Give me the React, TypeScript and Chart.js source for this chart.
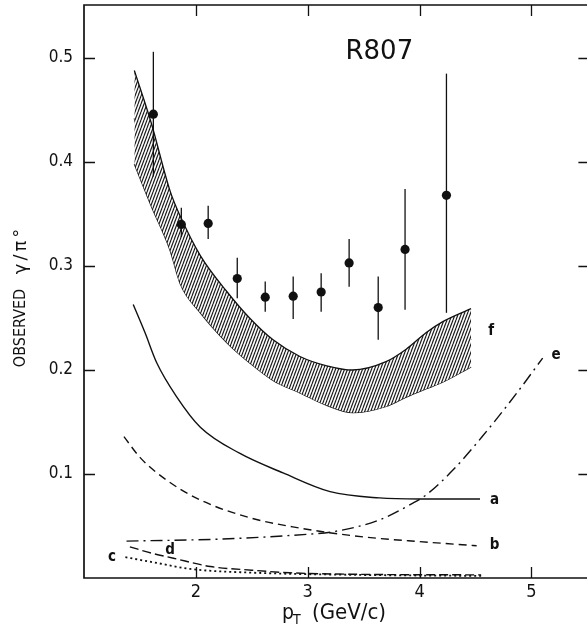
import React, { useEffect, useRef } from "react";
import { Chart, registerables } from "chart.js";

Chart.register(...registerables);

// Axis ticks
const xTicks = [2, 3, 4, 5];
const yTicks = [0.1, 0.2, 0.3, 0.4, 0.5];

// Measured gamma/pi0 ratio (R807)
const ptData = [1.62, 1.87, 2.11, 2.37, 2.62, 2.87, 3.12, 3.37, 3.63, 3.87, 4.24];
const ratioData = [0.446, 0.34, 0.341, 0.288, 0.27, 0.271, 0.275, 0.303, 0.26, 0.316, 0.368];
const errLow = [0.386, 0.328, 0.326, 0.269, 0.256, 0.249, 0.256, 0.28, 0.229, 0.258, 0.255];
const errHigh = [0.506, 0.356, 0.358, 0.308, 0.285, 0.29, 0.293, 0.326, 0.29, 0.374, 0.485];

// Band (f) edges and centre line
const bandX = [1.45, 1.6, 1.77, 1.86, 2.04, 2.28, 2.48, 2.69, 2.93, 3.17, 3.4, 3.7, 3.88, 4.06, 4.2, 4.46];
const bandUpper = [0.488, 0.438, 0.372, 0.348, 0.31, 0.275, 0.25, 0.229, 0.213, 0.204, 0.2, 0.208, 0.22, 0.236, 0.246, 0.259];
const bandLower = [0.398, 0.358, 0.315, 0.283, 0.255, 0.226, 0.207, 0.19, 0.178, 0.166, 0.159, 0.165, 0.174, 0.182, 0.188, 0.203];
const fX = [1.45, 1.62, 1.86, 2.1, 2.39, 2.69, 2.99, 3.49, 3.79, 4.06, 4.42, 4.46];
const fY = [0.442, 0.395, 0.332, 0.284, 0.237, 0.21, 0.193, 0.178, 0.1875, 0.2, 0.227, 0.23];

// Curve a (solid)
const aX = [1.44, 1.545, 1.65, 1.83, 2.04, 2.39, 2.78, 3.2, 3.64, 4.0, 4.54];
const aY = [0.263, 0.236, 0.207, 0.174, 0.145, 0.12, 0.101, 0.083, 0.077, 0.076, 0.076];
// Curve b (dashed)
const bX = [1.357, 1.5, 1.74, 2.04, 2.48, 2.93, 3.3, 3.64, 4.0, 4.51];
const bY = [0.136, 0.116, 0.094, 0.075, 0.058, 0.048, 0.042, 0.038, 0.035, 0.031];
// Curve c (dotted)
const cX = [1.37, 1.65, 1.95, 2.54, 3.44, 4.55];
const cY = [0.02, 0.0145, 0.0087, 0.005, 0.003, 0.002];
// Curve d (long dash)
const dX = [1.41, 1.6, 1.8, 2.13, 2.5, 2.84, 3.5, 4.55];
const dY = [0.03, 0.024, 0.019, 0.011, 0.0075, 0.005, 0.0035, 0.003];
// Curve e (dash-dot)
const eX = [1.38, 2.24, 2.99, 3.2, 3.64, 3.94, 4.06, 4.3, 4.56, 4.87, 5.1];
const eY = [0.0355, 0.0375, 0.042, 0.044, 0.0558, 0.072, 0.08, 0.104, 0.136, 0.178, 0.2115];

// Curve labels (data coordinates)
const labelText = ["a", "b", "c", "d", "e", "f"];
const labelX = [4.67, 4.67, 1.25, 1.77, 5.22, 4.64];
const labelY = [0.075, 0.032, 0.02, 0.027, 0.214, 0.237];
const titleText = "R807";
const titleX = 3.64;
const titleY = 0.506;

const xMin = 1.0;
const xMax = 5.5;
const yMin = 0;
const yMax = 0.551;

const pts = (xs: number[], ys: number[]) => xs.map((x, i) => ({ x, y: ys[i] }));

export default function App() {
  const ref = useRef<HTMLCanvasElement>(null);

  useEffect(() => {
    document.body.style.margin = "0";
    document.body.style.overflow = "hidden";
    document.documentElement.style.overflow = "hidden";
    const canvas = ref.current!;

    // hatch pattern
    const pc = document.createElement("canvas");
    pc.width = 3;
    pc.height = 8;
    const pctx = pc.getContext("2d")!;
    pctx.fillStyle = "#fff";
    pctx.fillRect(0, 0, 3, 8);
    pctx.strokeStyle = "rgba(0,0,0,0.9)";
    pctx.lineWidth = 1.2;
    for (let k = -1; k <= 1; k++) {
      pctx.beginPath();
      pctx.moveTo(k * 3, 8);
      pctx.lineTo(k * 3 + 3, 0);
      pctx.stroke();
    }
    const hatch = canvas.getContext("2d")!.createPattern(pc, "repeat")!;

    const ink = "#111";
    const line = (data: any, dash: number[], width = 1.4) => ({
      type: "scatter" as const,
      data,
      showLine: true,
      borderColor: ink,
      borderWidth: width,
      borderDash: dash,
      pointRadius: 0,
      fill: false,
      cubicInterpolationMode: "monotone" as const,
    });

    const decor = {
      id: "decor",
      afterDatasetsDraw(chart: any) {
        const ctx = chart.ctx;
        const xs = chart.scales.x;
        const ys = chart.scales.y;
        ctx.save();
        ctx.strokeStyle = ink;
        ctx.lineWidth = 1.3;
        // error bars
        for (let i = 0; i < ptData.length; i++) {
          const px = xs.getPixelForValue(ptData[i]);
          ctx.beginPath();
          ctx.moveTo(px, ys.getPixelForValue(errLow[i]));
          ctx.lineTo(px, ys.getPixelForValue(errHigh[i]));
          ctx.stroke();
        }
        ctx.restore();
      },
      afterDraw(chart: any) {
        const ctx = chart.ctx;
        const a = chart.chartArea;
        const xs = chart.scales.x;
        const ys = chart.scales.y;
        ctx.save();
        ctx.strokeStyle = ink;
        ctx.lineWidth = 1.7;
        // frame (right edge of the original frame lies outside the picture)
        ctx.beginPath();
        ctx.moveTo(a.right + 4, a.top);
        ctx.lineTo(a.left, a.top);
        ctx.lineTo(a.left, a.bottom);
        ctx.lineTo(a.right + 4, a.bottom);
        ctx.stroke();
        ctx.lineWidth = 1.3;
        const tl = 11;
        ctx.beginPath();
        xTicks.forEach((v) => {
          const px = Math.round(xs.getPixelForValue(v)) + 0.5;
          ctx.moveTo(px, a.bottom);
          ctx.lineTo(px, a.bottom - tl);
          ctx.moveTo(px, a.top);
          ctx.lineTo(px, a.top + tl);
        });
        yTicks.forEach((v) => {
          const py = Math.round(ys.getPixelForValue(v)) + 0.5;
          ctx.moveTo(a.left, py);
          ctx.lineTo(a.left + tl, py);
          ctx.moveTo(a.right + 2, py);
          ctx.lineTo(a.right + 2 - tl, py);
        });
        ctx.stroke();

        ctx.fillStyle = ink;
        // curve labels
        ctx.font = "bold 15px 'DejaVu Sans Condensed'";
        ctx.textAlign = "center";
        ctx.textBaseline = "middle";
        labelText.forEach((t, i) => {
          ctx.fillText(t, xs.getPixelForValue(labelX[i]), ys.getPixelForValue(labelY[i]));
        });
        // R807
        ctx.font = "26px 'DejaVu Sans'";
        ctx.fillText(titleText, xs.getPixelForValue(titleX), ys.getPixelForValue(titleY));

        // x axis title: p_T (GeV/c)
        ctx.textAlign = "left";
        ctx.textBaseline = "alphabetic";
        ctx.font = "21px 'DejaVu Sans Condensed'";
        ctx.fillText("p", 282, 619);
        ctx.font = "14px 'DejaVu Sans Condensed'";
        ctx.fillText("T", 293, 624);
        ctx.font = "22px 'DejaVu Sans Condensed'";
        ctx.fillText("(GeV/c)", 312, 619);

        // y axis title
        ctx.save();
        ctx.translate(21, 328);
        ctx.rotate(-Math.PI / 2);
        ctx.textAlign = "center";
        ctx.textBaseline = "middle";
        ctx.font = "16px 'DejaVu Sans Condensed'";
        ctx.fillText("OBSERVED", 0, 0);
        ctx.restore();
        ctx.save();
        ctx.translate(21, 250);
        ctx.rotate(-Math.PI / 2);
        ctx.textAlign = "center";
        ctx.textBaseline = "middle";
        ctx.font = "18px 'DejaVu Sans'";
        (ctx as any).letterSpacing = "3px";
        ctx.fillText("γ/π°", 0, 0);
        ctx.restore();
        ctx.restore();
      },
    };

    const chart = new Chart(canvas, {
      type: "scatter",
      data: {
        datasets: [
          {
            type: "scatter",
            data: pts(ptData, ratioData),
            pointRadius: 4.6,
            pointBackgroundColor: ink,
            pointBorderColor: ink,
            pointBorderWidth: 0,
            showLine: false,
          } as any,
          {
            ...line(pts(bandX, bandUpper), [], 1.3),
            fill: "+1",
            backgroundColor: hatch,
          } as any,
          line(pts(bandX, bandLower), [], 1.3) as any,
          line(pts(fX, fY), [11, 4, 3, 4], 1.6) as any,
          line(pts(aX, aY), [], 1.4) as any,
          line(pts(bX, bY), [8, 5], 1.4) as any,
          line(pts(cX, cY), [2, 3], 1.8) as any,
          line(pts(dX, dY), [9, 4], 1.4) as any,
          line(pts(eX, eY), [12, 5, 2, 5], 1.4) as any,
        ],
      },
      options: {
        animation: false,
        responsive: false,
        devicePixelRatio: 1,
        layout: { padding: { top: 5, right: 2, left: 0, bottom: 0 } },
        plugins: {
          legend: { display: false },
          tooltip: { enabled: false },
        },
        scales: {
          x: {
            type: "linear",
            min: xMin,
            max: xMax,
            grid: { display: false, drawTicks: false },
            border: { display: false },
            afterBuildTicks: (s: any) => {
              s.ticks = xTicks.map((v) => ({ value: v }));
            },
            afterFit: (s: any) => {
              s.height = 52;
              s.paddingLeft = 0;
              s.paddingRight = 0;
            },
            ticks: {
              padding: 4,
              color: ink,
              font: { family: "'DejaVu Sans Condensed'", size: 18 },
              callback: (v: any) => String(v),
            },
          },
          y: {
            type: "linear",
            min: yMin,
            max: yMax,
            grid: { display: false, drawTicks: false },
            border: { display: false },
            afterBuildTicks: (s: any) => {
              s.ticks = yTicks.map((v) => ({ value: v }));
            },
            afterFit: (s: any) => {
              s.width = 84;
              s.paddingTop = 0;
              s.paddingBottom = 0;
            },
            ticks: {
              padding: 11,
              color: ink,
              font: { family: "'DejaVu Sans Condensed'", size: 17 },
              callback: (v: any) => Number(v).toFixed(1),
            },
          },
        },
      },
      plugins: [decor],
    });

    return () => chart.destroy();
  }, []);

  return (
    <canvas
      ref={ref}
      width={592}
      height={630}
      style={{ position: "fixed", left: 0, top: 0, width: 592, height: 630 }}
    />
  );
}
